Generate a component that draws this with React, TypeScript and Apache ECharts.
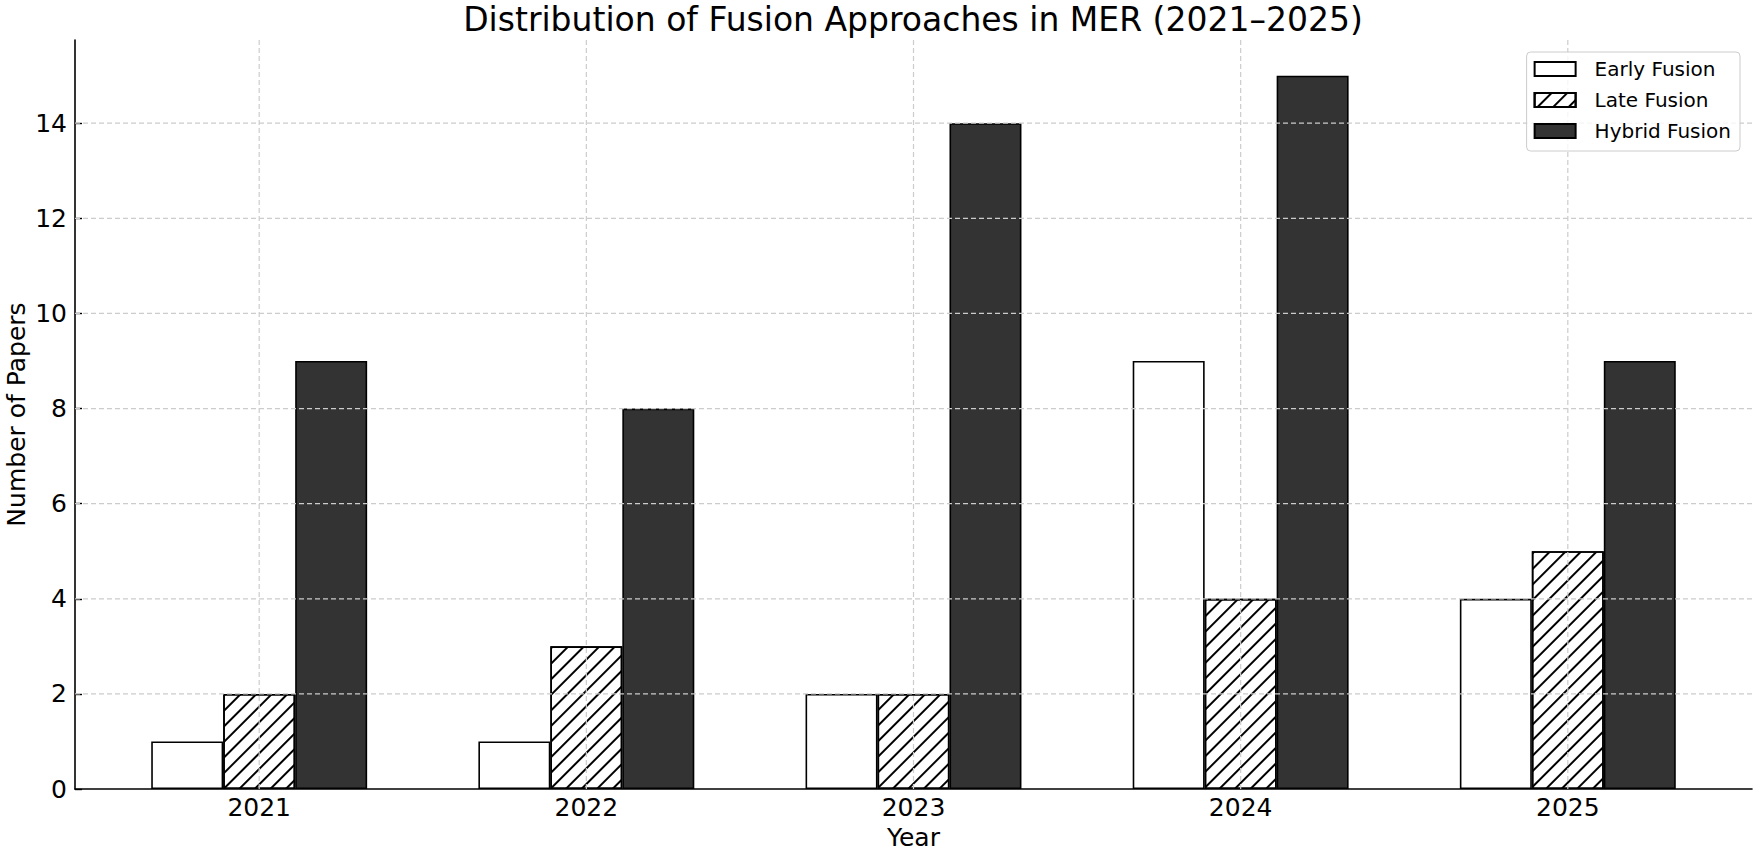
import React, { useEffect, useRef } from "react";
import * as echarts from "echarts";

const years = ["2021", "2022", "2023", "2024", "2025"];
const earlyFusion = [1, 1, 2, 9, 4];
const lateFusion = [2, 3, 2, 4, 5];
const hybridFusion = [9, 8, 14, 15, 9];
const yTicks = [0, 2, 4, 6, 8, 10, 12, 14];
const gridYs = [2, 4, 6, 8, 10, 12, 14];

const FONT = "DejaVu Sans";
const X_MIN = -0.563;
const X_MAX = 4.563;
const Y_MAX = 15.75;

const gridLineStyle = { stroke: "#cccccc", lineWidth: 1.2, lineDash: [5, 3] };

export default function App() {
  const ref = useRef<HTMLDivElement>(null);
  useEffect(() => {
    if (!ref.current) return;
    const chart = echarts.init(ref.current, undefined, { renderer: "svg" });
    const xIdx = years.map((_, i) => i);
    const toPairs = (arr: number[]) => arr.map((v, i) => [i, v]);
    const barBase = {
      type: "bar" as const,
      barWidth: "22%",
      barGap: "0%",
    };
    const option: any = {
      animation: false,
      backgroundColor: "#ffffff",
      title: {
        text: "Distribution of Fusion Approaches in MER (2021–2025)",
        left: 913,
        top: 3,
        textAlign: "center",
        padding: 0,
        textStyle: { fontFamily: FONT, fontSize: 33, fontWeight: "normal", color: "#000", lineHeight: 33 },
      },
      legend: {
        data: ["Early Fusion", "Late Fusion", "Hybrid Fusion"],
        orient: "vertical",
        align: "left",
        right: 15,
        top: 52,
        z: 6,
        padding: [7, 9, 10, 7],
        itemWidth: 41,
        itemHeight: 14,
        itemGap: 11,
        icon: "rect",
        borderColor: "#cccccc",
        borderWidth: 1,
        borderRadius: 4,
        backgroundColor: "rgba(255,255,255,0.8)",
        textStyle: {
          fontFamily: FONT,
          fontSize: 20,
          lineHeight: 20,
          color: "#000",
          padding: [0, 0, 0, 14],
        },
      },
      grid: { left: 75, right: 3, top: 40, bottom: 62, containLabel: false, outerBoundsMode: "none" },
      xAxis: {
        type: "value",
        min: X_MIN,
        max: X_MAX,
        name: "Year",
        nameLocation: "middle",
        nameGap: 36,
        nameMoveOverlap: false,
        nameTextStyle: { fontFamily: FONT, fontSize: 25, color: "#000" },
        axisLine: { show: true, onZero: false, lineStyle: { color: "#000", width: 1.6 } },
        axisTick: { show: true, inside: true, length: 7, customValues: xIdx, lineStyle: { color: "#000", width: 1.4 } },
        axisLabel: {
          customValues: xIdx,
          formatter: (v: number) => years[Math.round(v)] ?? "",
          fontFamily: FONT,
          fontSize: 25,
          color: "#000",
          margin: 6,
        },
        splitLine: { show: false },
      },
      yAxis: {
        type: "value",
        min: 0,
        max: Y_MAX,
        name: "Number of Papers",
        nameLocation: "middle",
        nameRotate: 90,
        nameGap: 46,
        nameMoveOverlap: false,
        nameTextStyle: { fontFamily: FONT, fontSize: 25, lineHeight: 25, color: "#000" },
        axisLine: { show: true, onZero: false, lineStyle: { color: "#000", width: 1.6 } },
        axisTick: { show: true, inside: true, length: 7, customValues: yTicks, lineStyle: { color: "#000", width: 1.4 } },
        axisLabel: {
          customValues: yTicks,
          fontFamily: FONT,
          fontSize: 25,
          color: "#000",
          margin: 8,
        },
        splitLine: { show: false },
      },
      series: [
        {
          ...barBase,
          name: "Early Fusion",
          data: toPairs(earlyFusion),
          itemStyle: { color: "#ffffff", borderColor: "#000", borderWidth: 1.6 },
        },
        {
          ...barBase,
          name: "Late Fusion",
          data: toPairs(lateFusion),
          itemStyle: {
            color: "#ffffff",
            borderColor: "#000",
            borderWidth: 1.6,
            decal: {
              symbol: "rect",
              symbolSize: 1,
              dashArrayX: [1, 0],
              dashArrayY: [1.6, 9],
              rotation: -Math.PI / 4,
              color: "#000",
            },
          },
        },
        {
          ...barBase,
          name: "Hybrid Fusion",
          data: toPairs(hybridFusion),
          itemStyle: { color: "#333333", borderColor: "#000", borderWidth: 1.6 },
        },
        {
          type: "custom",
          name: "vgrid",
          z: 3,
          silent: true,
          clip: false,
          encode: { x: 0, y: 1 },
          data: xIdx.map((x) => [x, 0]),
          renderItem: (_p: any, api: any) => {
            const x = api.value(0);
            const a = api.coord([x, 0]);
            const b = api.coord([x, Y_MAX]);
            return {
              type: "line",
              silent: true,
              shape: { x1: a[0], y1: a[1], x2: b[0], y2: b[1] },
              style: gridLineStyle,
            };
          },
        },
        {
          type: "custom",
          name: "hgrid",
          z: 3,
          silent: true,
          clip: false,
          encode: { x: 0, y: 1 },
          data: gridYs.map((y) => [0, y]),
          renderItem: (_p: any, api: any) => {
            const y = api.value(1);
            const a = api.coord([X_MIN, y]);
            const b = api.coord([X_MAX, y]);
            return {
              type: "line",
              silent: true,
              shape: { x1: a[0], y1: a[1], x2: b[0], y2: b[1] },
              style: gridLineStyle,
            };
          },
        },
      ],
    };
    chart.setOption(option);
    return () => chart.dispose();
  }, []);
  return (
    <div
      ref={ref}
      style={{ position: "fixed", left: 0, top: 0, width: 1755, height: 851, background: "#fff" }}
    />
  );
}
